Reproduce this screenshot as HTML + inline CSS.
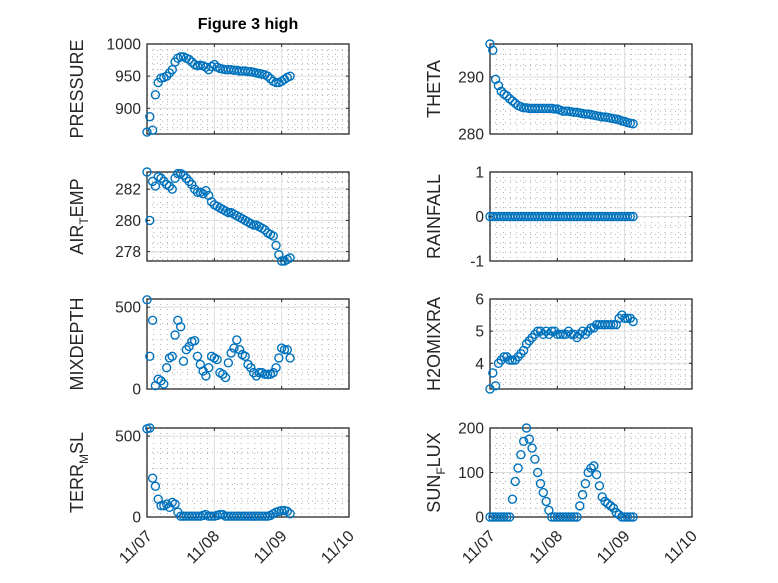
<!DOCTYPE html>
<html><head><meta charset="utf-8"><style>
body{margin:0;background:#fff;}
svg{display:block;font-family:"Liberation Sans","DejaVu Sans",sans-serif;}
</style></head><body>
<svg id="fig" width="778" height="583" viewBox="0 0 778 583">
<text x="248" y="29" text-anchor="middle" font-weight="bold" font-size="16" fill="#000">Figure 3 high</text>
</svg>
<script>
const hours = Array.from({length:52},(_, i)=>i);
const pressure = [863,887,866,921,940,947,948,950,955,960,972,978,980,980,978,976,972,968,966,967,966,964,960,965,968,964,962,961,960,960,960,959,959,958,958,958,957,957,956,955,954,953,952,950,946,942,940,940,942,945,948,950];
const airTemp = [283.1,280.0,282.5,282.2,282.8,282.7,282.5,282.3,282.2,282.0,282.7,283.0,283.0,282.9,282.7,282.5,282.3,282.0,281.8,281.8,281.7,281.9,281.6,281.2,281.0,280.9,280.8,280.7,280.6,280.5,280.5,280.4,280.3,280.2,280.1,280.0,279.9,279.8,279.7,279.7,279.6,279.5,279.4,279.2,279.1,279.0,278.4,277.8,277.4,277.4,277.5,277.6];
const theta = [295.8,294.7,289.6,288.5,287.5,287.0,286.7,286.2,285.8,285.4,285.0,284.8,284.6,284.6,284.5,284.5,284.5,284.5,284.5,284.5,284.5,284.5,284.5,284.4,284.4,284.2,284.0,284.0,284.0,283.9,283.8,283.8,283.7,283.6,283.5,283.5,283.4,283.3,283.2,283.1,283.0,283.0,282.9,282.8,282.7,282.6,282.5,282.3,282.2,282.0,281.9,281.8];
const rainfall = hours.map(()=>0);
const mixDepth = [545,200,420,20,60,50,30,130,190,200,330,420,380,170,240,260,290,295,200,150,110,80,130,200,190,180,100,90,70,160,220,250,300,240,210,200,150,130,100,80,100,100,90,90,90,100,130,190,250,240,240,190];
const h2oMix = [3.2,3.7,3.3,4.0,4.1,4.2,4.2,4.1,4.1,4.1,4.2,4.3,4.4,4.6,4.7,4.8,4.9,5.0,5.0,4.9,5.0,4.9,5.0,5.0,4.9,4.9,4.9,4.9,5.0,4.9,4.9,4.8,4.9,5.0,4.9,5.0,5.1,5.1,5.2,5.2,5.2,5.2,5.2,5.2,5.2,5.2,5.4,5.5,5.4,5.4,5.4,5.3];
const terrMsl = [545,550,240,190,110,70,70,80,60,90,80,30,5,5,5,5,5,5,5,5,10,15,5,5,5,10,15,15,5,5,5,5,5,5,5,5,5,5,5,5,5,5,5,5,10,20,30,35,40,40,35,20];
const sunFlux = [0,0,0,0,0,0,0,0,40,80,110,140,170,200,175,155,130,100,75,55,35,15,0,0,0,0,0,0,0,0,0,0,25,50,75,100,110,115,95,70,45,35,30,25,20,10,5,0,0,0,0,0];
const xTickLabels = ["11/07","11/08","11/09","11/10"];

const svg = document.getElementById('fig');
const NS = 'http://www.w3.org/2000/svg';
function mk(tag, attrs){const e=document.createElementNS(NS,tag);for(const k in attrs)e.setAttribute(k,attrs[k]);svg.appendChild(e);return e;}

const cols=[{x0:147,x1:349,lab:141,yl:78},{x0:490,x1:692,lab:484,yl:435}];
const rows=[{y0:44,y1:134},{y0:172,y1:261},{y0:299,y1:389},{y0:428,y1:517}];
const panels=[
 {name:'pressure',c:0,r:0,data:pressure,min:860,max:1000,ticks:[900,950,1000],minor:10,label:['PRESSURE']},
 {name:'theta',c:1,r:0,data:theta,min:280,max:295.8,ticks:[280,290],minor:2,label:['THETA']},
 {name:'air-temp',c:0,r:1,data:airTemp,min:277.4,max:283.1,ticks:[278,280,282],minor:0.5,label:['AIR','T','EMP']},
 {name:'rainfall',c:1,r:1,data:rainfall,min:-1,max:1,ticks:[-1,0,1],minor:0.2,label:['RAINFALL']},
 {name:'mixdepth',c:0,r:2,data:mixDepth,min:0,max:550,ticks:[0,500],minor:100,label:['MIXDEPTH']},
 {name:'h2omixra',c:1,r:2,data:h2oMix,min:3.2,max:6,ticks:[4,5,6],minor:0.2,label:['H2OMIXRA']},
 {name:'terr-msl',c:0,r:3,data:terrMsl,min:0,max:550,ticks:[0,500],minor:100,label:['TERR','M','SL']},
 {name:'sun-flux',c:1,r:3,data:sunFlux,min:0,max:200,ticks:[0,100,200],minor:20,label:['SUN','F','LUX']}
];

panels.forEach(p=>{
 const C=cols[p.c],R=rows[p.r];
 const xs=h=>C.x0+(h/24)/3*(C.x1-C.x0);
 const ys=v=>R.y1-(v-p.min)/(p.max-p.min)*(R.y1-R.y0);
 for(let k=1;k<30;k++){ if(k%10===0)continue; const x=C.x0+k/30*(C.x1-C.x0);
  const l=mk('line',{x1:x,x2:x,y1:R.y0,y2:R.y1,stroke:'#b0b0b0','stroke-width':1,'stroke-dasharray':'1 4'});
   }
 const m0=Math.ceil(p.min/p.minor);
 for(let k=m0;k*p.minor<=p.max+1e-9;k++){const v=k*p.minor; if(p.ticks.some(t=>Math.abs(t-v)<1e-6))continue;
  const y=ys(v); const l=mk('line',{x1:C.x0,x2:C.x1,y1:y,y2:y,stroke:'#b0b0b0','stroke-width':1,'stroke-dasharray':'1 4'});
   }
 for(let d=1;d<3;d++){const x=C.x0+d/3*(C.x1-C.x0);
  const l=mk('line',{x1:x,x2:x,y1:R.y0,y2:R.y1,stroke:'#dcdcdc','stroke-width':1});
   
  const t=mk('line',{x1:x,x2:x,y1:R.y0,y2:R.y0+3,stroke:'#262626'});
  const t2=mk('line',{x1:x,x2:x,y1:R.y1,y2:R.y1-3,stroke:'#262626'});}
 p.ticks.forEach(v=>{const y=ys(v);
  const g=mk('line',{x1:C.x0,x2:C.x1,y1:y,y2:y,stroke:'#dcdcdc','stroke-width':1});
   
  const t=mk('line',{x1:C.x0,x2:C.x0+3,y1:y,y2:y,stroke:'#262626'});
  const t2=mk('line',{x1:C.x1,x2:C.x1-3,y1:y,y2:y,stroke:'#262626'});
  const tx=mk('text',{x:C.lab,y:y+5.5,'text-anchor':'end','font-size':15.5,fill:'#262626'});tx.textContent=String(v);
   });
 const box=mk('rect',{x:C.x0,y:R.y0,width:C.x1-C.x0,height:R.y1-R.y0,fill:'none',stroke:'#262626','stroke-width':1.3});
  
 const cy=(R.y0+R.y1)/2;
 const lab=mk('text',{x:0,y:0,'text-anchor':'middle','font-size':18,fill:'#262626',transform:`translate(${C.yl+5},${cy}) rotate(-90)`});
  
 if(p.label.length===1) lab.textContent=p.label[0];
 else { const a=document.createElementNS(NS,'tspan');a.textContent=p.label[0];lab.appendChild(a);
  const b=document.createElementNS(NS,'tspan');b.setAttribute('dy','5');b.setAttribute('font-size','12');b.textContent=p.label[1];lab.appendChild(b);
  const c=document.createElementNS(NS,'tspan');c.setAttribute('dy','-5');c.textContent=p.label[2];lab.appendChild(c);}
 p.data.forEach((v,i)=>{const c=mk('circle',{cx:xs(hours[i]),cy:ys(v),r:4,fill:'none',stroke:'#0072BD','stroke-width':1.4});
   });
 if(p.r===3){xTickLabels.forEach((s,d)=>{const x=C.x0+d/3*(C.x1-C.x0);
  const t=mk('text',{x:0,y:0,'text-anchor':'end','font-size':16,fill:'#262626',transform:`translate(${x+6},${R.y1+20}) rotate(-45)`});
  t.textContent=s;  });}
});
</script>
</body></html>
